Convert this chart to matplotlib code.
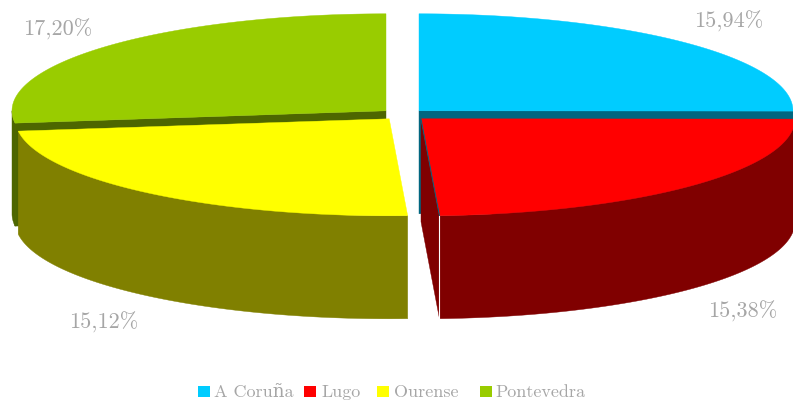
import numpy as np
import matplotlib
matplotlib.use("Agg")
import matplotlib.pyplot as plt
from matplotlib.patches import Polygon, Rectangle

# --------------------------DATA--------------------------------------------
provinces = ["A Coruña", "Lugo", "Ourense", "Pontevedra"]
values = [15.94, 15.38, 15.12, 17.20]
labels = ["15,94%", "15,38%", "15,12%", "17,20%"]
top_colors = ["#00CCFF", "#FF0000", "#FFFF00", "#99CC00"]
side_colors = ["#006680", "#800000", "#808000", "#4D6600"]
#---------------------------------------------------------------------------

# layout, in pixels of the 793x402 picture
RX, RY, DEPTH = 374, 97, 103
centers = [(419, 111.8), (421, 119.8), (389.2, 119.8), (386, 111.8)]
label_pos = [(729, 21), (743, 311), (104, 322), (58, 29)]
legend_x = [198, 304, 377, 480]
text_x = [214, 321, 394, 495]
TXT = "#A6A6A6"
FONT = ["cmr10", "DejaVu Serif"]

plt.rcParams["axes.formatter.use_mathtext"] = True

fig = plt.figure(figsize=(7.93, 4.02), dpi=100)
ax = fig.add_axes([0, 0, 1, 1])
ax.set_xlim(0, 793)
ax.set_ylim(402, 0)
ax.axis("off")

# clockwise from 12 o'clock
shares = np.array(values) / sum(values) * 360
ends = 90 - np.cumsum(shares)
starts = ends + shares


def rim(c, a0, a1, n=200):
    t = np.radians(np.linspace(a0, a1, n))
    return np.column_stack([c[0] + RX * np.cos(t), c[1] - RY * np.sin(t)])


def drop(pts):
    return pts + [0, DEPTH]


def extrude(ax, pts, color, z):
    poly = np.vstack([pts, drop(pts)[::-1]])
    ax.add_patch(Polygon(poly, closed=True, fc=color, ec=color, lw=0.3, zorder=z))


def top(ax, c, a0, a1, color, z):
    poly = np.vstack([[c], rim(c, a0, a1)])
    ax.add_patch(Polygon(poly, closed=True, fc=color, ec=color, lw=0.3, zorder=z))


# back slices first: A Coruña and Pontevedra
extrude(ax, np.array([centers[0], rim(centers[0], ends[0], ends[0], 1)[0]]), side_colors[0], 1)
top(ax, centers[0], starts[0], ends[0], top_colors[0], 2)

c = centers[3]
extrude(ax, np.array([c, rim(c, starts[3], starts[3], 1)[0]]), side_colors[3], 1)
extrude(ax, rim(c, -180, ends[2]), side_colors[3], 1)
top(ax, c, starts[3], ends[3], top_colors[3], 2)

# front slices: Ourense
c = centers[2]
extrude(ax, rim(c, starts[2], ends[2]), side_colors[2], 3)
top(ax, c, starts[2], ends[2], top_colors[2], 4)

# Lugo, with its visible cut face on the left
c = centers[1]
end_pt = rim(c, ends[1], ends[1], 1)[0]
extrude(ax, np.array([c, end_pt]), side_colors[1], 3)
extrude(ax, rim(c, starts[1], ends[1]), side_colors[1], 3)
top(ax, c, starts[1], ends[1], top_colors[1], 4)
ax.plot([c[0], end_pt[0]], [c[1], end_pt[1]], color=side_colors[0], lw=0.7, zorder=5)
ax.plot([end_pt[0], end_pt[0]], [end_pt[1], end_pt[1] + DEPTH], color="white", lw=0.8, zorder=5)

for (x, y), s in zip(label_pos, labels):
    ax.text(x, y, s, color=TXT, fontsize=16, family=FONT, ha="center", va="center", zorder=6)

for x, tx, name, col in zip(legend_x, text_x, provinces, top_colors):
    ax.add_patch(Rectangle((x, 387), 12, 11, fc=col, ec="none", zorder=6))
    ax.text(tx, 392, name, color=TXT, fontsize=13, family=FONT, ha="left", va="center", zorder=6)

plt.savefig("out.png", dpi=100)
